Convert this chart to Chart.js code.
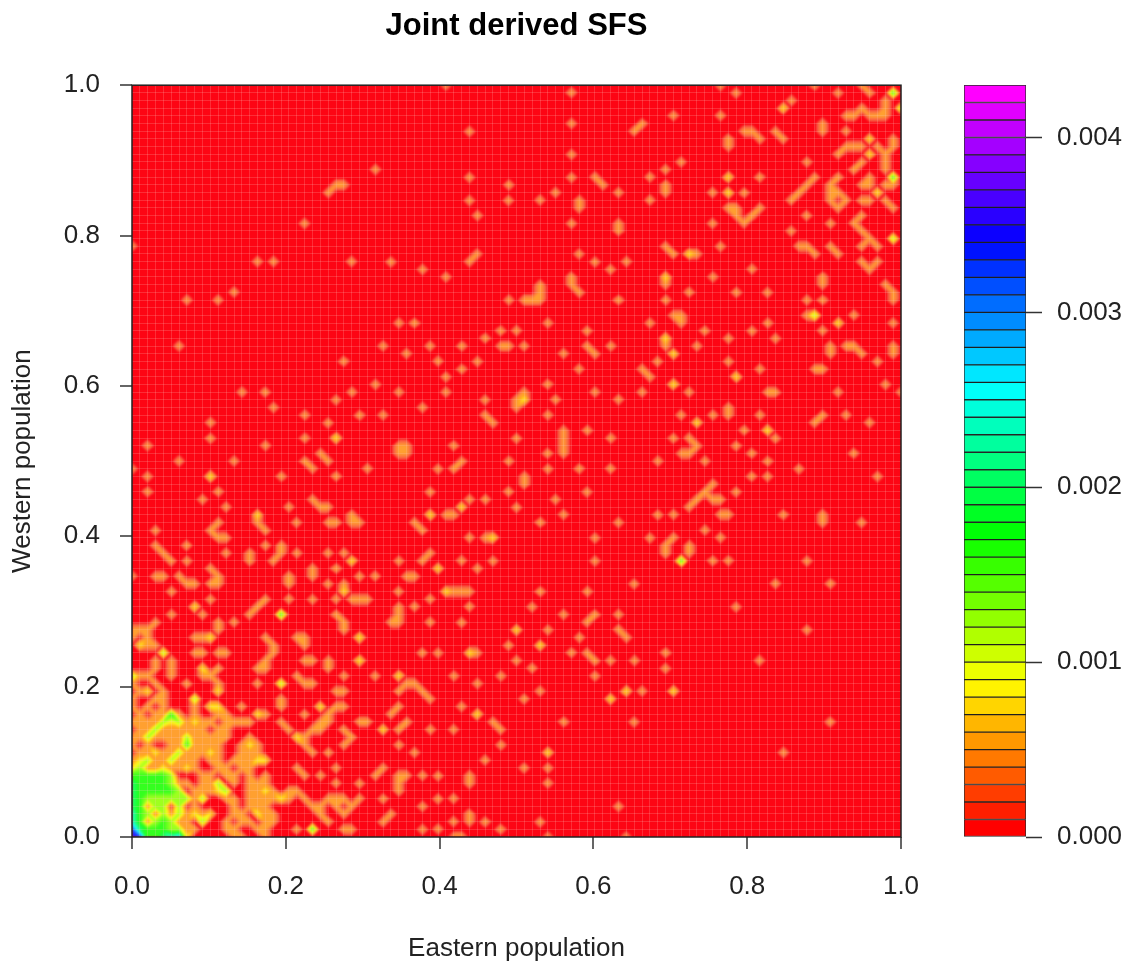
<!DOCTYPE html>
<html>
<head>
<meta charset="utf-8">
<title>Joint derived SFS</title>
<script src="https://cdn.jsdelivr.net/npm/chart.js@4"></script>
<style>
  html, body { margin: 0; padding: 0; background: #fff; }
  canvas { position: absolute; top: 0; }
  #sfsChart { left: 0; }
  #keyChart { left: 930px; }
</style>
</head>
<body>
<canvas id="sfsChart" width="1033" height="967"></canvas>
<canvas id="keyChart" width="200" height="967"></canvas>
<script>
// Frequency bins per axis, each bin is 1/98 of the axis
const binCount = 98;
const valuePerSite = 0.0004;
const tickLabels = [0, 0.2, 0.4, 0.6, 0.8, 1];
const keyTicks = [0, 0.001, 0.002, 0.003, 0.004];
const levelStep = 0.0001;
const levelCount = 43;

// Dense corner near the origin, sites per bin. Row 0 is the bottom row, columns from bin 0
const cornerRows = [
  [9,8,4,4,5,6,7,2,0,0,0,0,0,1,1,0,0,1,0],
  [8,5,4,4,4,3,3,1,1,0,0,0,1,1,0,0,1,1,0],
  [6,4,1,3,4,3,1,1,0,3,0,0,1,0,1,1,0,1,1],
  [6,4,3,1,3,1,3,1,2,1,2,0,0,1,1,0,2,1,1],
  [5,4,1,3,3,0,3,0,1,0,0,0,0,1,0,1,1,1,0],
  [5,4,3,3,3,3,3,3,1,3,0,0,1,1,0,1,1,1,1],
  [5,4,4,4,4,4,3,0,1,1,1,2,3,0,0,1,1,2,1],
  [5,4,4,4,4,3,1,1,0,1,1,3,0,1,0,1,1,1,0],
  [4,4,4,4,4,3,0,0,0,1,1,0,1,1,0,1,0,1,0],
  [2,3,1,1,2,1,1,2,1,0,0,1,1,0,1,1,0,0,0],
  [1,2,3,1,1,3,1,1,1,0,1,1,0,1,1,1,2,2,0],
  [0,1,1,2,1,1,3,1,1,1,2,1,0,0,1,1,1,0,0],
  [1,0,1,0,0,1,1,4,1,1,1,1,0,0,1,2,1,0,0],
  [1,1,3,1,1,1,1,3,1,1,1,1,1,0,0,1,0,0,0],
  [0,1,1,3,1,1,1,1,1,1,0,1,1,0,0,0,0,0,0],
  [1,1,1,1,3,2,3,1,2,1,1,0,1,1,1,1,0,0,0],
  [0,1,0,1,1,4,1,0,1,0,0,1,1,0,0,0,2,1,0],
  [1,0,1,0,1,0,0,0,1,0,2,2,0,0,1,0,0,0,0],
  [1,0,0,1,1,0,0,0,3,0,0,0,0,0,0,0,0,0,0],
  [0,1,2,0,1,0,0,0,0,0,0,2,0,0,0,0,0,0,0],
  [1,0,0,1,0,0,0,1,0,0,0,1,0,0,0,0,1,0,0]
];

// Everything else, [east bin, west bin]
const oneSite = [
  [40,98],[43,92],[31,87],[43,86],[48,85],[25,84],[26,85],[27,85],[48,83],[43,83],[44,81],[22,80],[44,76],[43,75],[0,77],[16,75],[18,75],[28,75],[33,75],[37,74],[40,73],[13,71],
  [56,97],[56,93],[69,94],[75,94],[75,98],[77,97],[65,93],[64,92],[76,90],[76,91],[56,89],[70,88],[68,87],[56,86],[66,86],[59,86],[60,85],[68,84],[68,85],[62,84],[54,84],[74,84],[78,84],[52,83],[66,83],[57,82],[57,83],[56,80],[62,79],[62,80],[74,80],[76,82],[77,82],[77,81],[78,80],[79,81],[80,82],[75,77],[68,77],[69,76],[72,76],[57,76],[59,75],[63,75],[61,74],[56,73],[74,73],[52,72],[79,74],
  [84,96],[87,98],[90,97],[93,98],[94,97],[96,96],[96,95],[96,94],[95,94],[94,94],[93,95],[92,94],[91,94],[78,92],[79,92],[80,91],[82,92],[83,91],[88,92],[88,93],[91,92],[97,90],[97,91],[90,89],[91,90],[92,90],[93,90],[92,87],[93,88],[95,90],[96,89],[96,88],[96,87],[86,88],[80,86],[87,86],[86,85],[85,84],[84,83],[90,86],[89,85],[89,84],[90,84],[89,83],[91,83],[90,82],[94,86],[93,85],[93,83],[94,83],[94,85],[96,85],[96,83],[97,82],[97,85],[86,81],[89,80],[93,81],[92,80],[93,79],[84,79],[85,77],[86,77],[87,76],[89,77],[90,76],[94,78],[93,77],[95,77],[88,73],[93,75],[94,74],[95,75],[96,72],[77,71],[81,71],
  [7,70],[11,70],[6,64],[48,70],[34,67],[36,67],[47,66],[49,66],[45,65],[32,64],[38,64],[42,64],[47,64],[48,64],[27,62],[35,63],[39,62],[44,62],[42,61],[40,60],[31,59],[14,58],[17,58],[28,58],[34,58],[40,58],[26,57],[18,56],[37,56],[45,57],[22,55],[29,55],[32,55],[49,56],[49,57],[45,55],[46,54],[10,54],[25,54],[10,52],[22,52],[2,51],[17,51],[34,50],[35,50],[34,51],[35,51],[41,51],[49,52],[24,50],[25,49],[22,49],[23,48],[6,49],[13,49],[39,48],[42,49],[41,48],[48,49],[30,48],[0,48],[2,47],[19,47],[26,47],[2,45],[11,45],[38,45],[48,45],[9,44],[23,44],[24,43],[25,43],[43,44],[45,44],[49,43],[12,43],[20,43],[16,41],[17,40],[40,42],[41,42],[21,41],[25,41],[26,41],[28,41],[29,41],[28,42],[11,41],[10,40],[11,39],[12,39],[3,40],[36,41],[37,40],[43,39],[45,39],[3,38],[4,37],[5,36],[7,38],[17,38],[19,38],[19,37],[18,36],
  [50,70],[51,70],[52,70],[52,71],[57,71],[62,70],[68,70],[71,71],[86,70],[88,70],[88,72],[96,72],[97,70],[97,71],[68,72],[56,72],[69,68],[70,68],[70,67],[53,67],[66,67],[81,67],[92,68],[86,68],[97,67],[58,66],[73,66],[79,66],[88,66],[50,64],[55,63],[58,64],[59,63],[61,64],[68,64],[72,64],[76,65],[82,65],[91,64],[92,64],[93,63],[89,63],[89,64],[97,63],[97,64],[67,62],[76,62],[95,62],[57,61],[65,61],[66,60],[80,61],[87,61],[88,61],[53,59],[96,59],[50,58],[49,57],[59,58],[65,58],[71,58],[81,58],[82,58],[90,58],[98,58],[54,57],[62,57],[53,55],[70,55],[74,55],[80,55],[76,55],[76,56],[91,55],[94,54],[88,55],[87,54],[58,53],[78,53],[82,52],[61,52],[69,52],[71,52],[72,51],[71,50],[70,50],[55,50],[55,51],[55,52],[55,53],[77,51],[53,50],[79,50],[92,50],[67,49],[73,49],[81,49],[53,48],[57,48],[61,48],[85,48],[79,47],[81,47],[95,47],[50,46],[50,47],[58,45],[74,46],[73,45],[72,44],[71,43],[75,44],[74,44],[77,45],[54,44],[55,42],[67,42],[69,42],[75,42],[76,42],[83,42],[88,41],[88,42],[52,41],[62,41],[93,41],[59,39],[66,39],[69,39],[73,40],[75,39],[71,38],[68,38],
  [38,37],[42,36],[46,36],[59,36],[68,37],[71,37],[74,36],[76,36],[86,36],[44,35],[64,33],[82,33],[89,33],[41,32],[42,32],[43,32],[52,32],[58,32],[38,31],[43,30],[51,30],[77,30],[55,29],[59,29],[58,28],[62,29],[38,28],[42,28],[53,27],[62,27],[63,26],[86,27],[57,26],[48,25],[39,24],[44,24],[56,24],[58,24],[59,23],[68,24],[49,23],[61,23],[64,23],[80,23],[51,22],[68,22],[41,21],[47,21],[59,21],[44,20],[50,18],[52,19],[65,19],[42,17],[46,15],[47,14],[55,15],[64,15],[89,15],[38,14],[41,14],[47,12],[45,10],[50,9],[53,9],[83,11],[39,8],[43,7],[43,8],[53,7],[39,5],[41,5],[62,4],[41,2],[43,2],[43,3],[45,2],[52,2],[39,1],[47,1],[41,0],[42,0],[53,0],[63,0],
  [12,37],[15,36],[15,37],[21,37],[25,37],[27,37],[37,36],[38,37],[34,36],[7,36],[20,34],[20,33],[23,34],[23,35],[26,35],[29,34],[31,34],[35,34],[36,34],[3,34],[4,34],[0,34],[5,32],[6,34],[7,33],[8,33],[10,35],[11,34],[11,33],[10,33],[25,33],[26,31],[28,31],[29,31],[30,31],[27,33],[23,31],[34,32],[36,30],[38,31],[10,31],[9,29],[5,29],[13,28],[16,30],[15,29],[17,31],[20,31],[34,29],[34,28],[34,30],[33,28],[26,29],[27,28],[27,27],[3,28],[0,27],[1,27],[2,27],[11,28],[11,27],[8,26],[9,26],[0,26],[2,26],[17,26],[18,25],[18,24],[17,23],[16,22],[17,22],[21,26],[22,26],[22,25],[8,24],[9,24],[11,24],[12,24],[37,24],[3,25],[2,25],[5,23],[3,23],[3,22],[2,21],[1,21],[5,22],[5,21],[9,21],[10,21],[11,22],[25,22],[25,23],[27,21],[31,21],[35,20],[36,20],[37,19],[21,21],[22,20],[23,20],[26,19],[27,19],[25,16],[26,17],[27,17],[24,15],[23,14],[22,13],[34,19],[34,17],[33,16],[38,18],[22,16],[30,15],[29,15],[35,15],[34,14],[38,14],[20,14],[19,15],[22,12],[23,11],[24,14],[25,15],[27,14],[28,13],[27,12],[34,12],[36,11],[25,11],[21,9],[22,8],[26,9],[32,9],[31,8],[24,8],[26,7],[29,7],[37,8],[39,8],[34,7],[34,8],[35,8],[34,6],[21,6],[22,5],[23,4],[24,3],[25,2],[24,4],[26,5],[27,5],[26,4],[28,4],[29,5],[27,3],[25,5],[32,5],[33,3],[32,2],[37,4],[21,1],[27,1],[28,1],[37,1],[20,6],[20,5],[19,18],[19,17],[22,23],[23,23]
];
const twoSites = [
  [76,86],[76,84],[71,76],[68,73],[83,95],[94,91],[94,89],[95,84],
  [26,52],[10,47],[16,42],[38,42],[42,43],[46,39],[68,65],[69,63],[77,60],[69,59],[72,54],[81,53],[90,67],[50,57],
  [39,35],[40,32],[49,27],[52,25],[43,24],[63,19],[69,19],[61,18],[44,16],[53,11],
  [28,36],[27,32],[8,30],[29,26],[29,23],[10,26],[1,25],[9,22],[34,21],[24,17],[32,14],[21,13],[19,5]
];
const threeSites = [[98,95],[97,78],[87,68],[0,21],[4,24],[19,20]];
const fourSites = [[97,97],[97,86],[70,36],[19,29],[23,1]];

// Bin grid filled from the lists above
const binGrid = [];
for (let i = 0; i <= binCount + 1; i++) binGrid.push(new Array(binCount + 2).fill(0));
function addCells(list, sites) {
  list.forEach(function (cell) {
    binGrid[cell[0]][cell[1]] = Math.max(binGrid[cell[0]][cell[1]], sites);
  });
}
addCells(oneSite, 1);
addCells(twoSites, 2);
addCells(threeSites, 3);
addCells(fourSites, 4);
cornerRows.forEach(function (row, j) {
  row.forEach(function (sites, i) {
    binGrid[i][j] = sites;
  });
});

const cellPoints = [];
for (let i = 0; i <= binCount; i++) {
  for (let j = 0; j <= binCount; j++) {
    if (binGrid[i][j] > 0) {
      cellPoints.push({ x: i / binCount, y: j / binCount, v: binGrid[i][j] * valuePerSite });
    }
  }
}

// R rainbow(): red to magenta
function levelColor(index, lightness) {
  return 'hsl(' + (index * 300 / (levelCount - 1)) + ',100%,' + lightness + '%)';
}
const levelColors = [];
const plotColors = [];
const lowTints = ['#fd0514', '#f8503f', '#fb7040', '#fe8c38', '#ffa030'];
for (let k = 0; k < levelCount; k++) {
  levelColors.push(levelColor(k, 50));
  plotColors.push(k < lowTints.length ? lowTints[k] : levelColor(k, 56));
}

// Linear value inside one bin, split in two triangles along the better diagonal
function binValue(a, b, c, d, u, w) {
  const diffAC = Math.abs(a - c);
  const diffBD = Math.abs(b - d);
  if (diffAC < diffBD || (diffAC === diffBD && a + c >= b + d)) {
    if (u >= w) return a + (b - a) * u + (c - b) * w;
    return a + (d - a) * w + (c - d) * u;
  }
  if (u + w <= 1) return a + (b - a) * u + (d - a) * w;
  return c + (d - c) * (1 - u) + (b - c) * (1 - w);
}

// Filled contours, painted under the grid through the chart's own scales
const contourPlugin = {
  id: 'contourFill',
  beforeDatasetsDraw(chart) {
    const xScale = chart.scales.x;
    const yScale = chart.scales.y;
    const area = chart.chartArea;
    const layer = document.createElement('canvas');
    layer.width = chart.width;
    layer.height = chart.height;
    const g = layer.getContext('2d');
    g.fillStyle = plotColors[0];
    g.fillRect(area.left, area.top, area.right - area.left, area.bottom - area.top);

    for (let i = 0; i < binCount; i++) {
      for (let j = 0; j < binCount; j++) {
        const a = binGrid[i][j], b = binGrid[i + 1][j], c = binGrid[i + 1][j + 1], d = binGrid[i][j + 1];
        if (a + b + c + d === 0) continue;
        const x0 = xScale.getPixelForValue(i / binCount);
        const x1 = xScale.getPixelForValue((i + 1) / binCount);
        const y0 = yScale.getPixelForValue(j / binCount);
        const y1 = yScale.getPixelForValue((j + 1) / binCount);
        for (let px = Math.floor(x0); px <= Math.ceil(x1); px++) {
          const u = (px + 0.5 - x0) / (x1 - x0);
          if (u < 0 || u > 1) continue;
          for (let py = Math.floor(y1); py <= Math.ceil(y0); py++) {
            const w = (y0 - py - 0.5) / (y0 - y1);
            if (w < 0 || w > 1) continue;
            const v = binValue(a, b, c, d, u, w) * valuePerSite;
            // first contour pulled towards zero, the rim in the picture is a bit wider than the levels say
            const level = Math.min(levelCount - 1, Math.floor(v / levelStep + 0.35));
            if (level > 0) {
              g.fillStyle = plotColors[level];
              g.fillRect(px, py, 1, 1);
            }
          }
        }
      }
    }

    const ctx = chart.ctx;
    ctx.save();
    ctx.beginPath();
    ctx.rect(area.left, area.top, area.right - area.left, area.bottom - area.top);
    ctx.clip();
    ctx.fillStyle = plotColors[0];
    ctx.fillRect(area.left, area.top, area.right - area.left, area.bottom - area.top);
    ctx.filter = 'blur(1px)';
    ctx.drawImage(layer, 0, 0);
    ctx.restore();
  },
  afterDraw(chart) {
    const area = chart.chartArea;
    const ctx = chart.ctx;
    ctx.save();
    ctx.strokeStyle = '#222';
    ctx.lineWidth = 1.5;
    ctx.strokeRect(area.left, area.top, area.right - area.left, area.bottom - area.top);
    ctx.restore();
  }
};

// Ticks: labelled ones outside, one faint line per bin inside
function buildPlotTicks(scale) {
  const ticks = tickLabels.map(function (value) {
    return { value: value, labelled: true };
  });
  for (let i = 1; i < binCount; i++) {
    ticks.push({ value: i / binCount, labelled: false });
  }
  ticks.sort(function (p, q) { return p.value - q.value; });
  scale.ticks = ticks;
}

function plotAxis(titleText, titlePadding, tickPadding) {
  return {
    type: 'linear',
    min: 0,
    max: 1,
    afterBuildTicks: buildPlotTicks,
    title: { display: true, text: titleText, color: '#222', font: { size: 26 }, padding: titlePadding },
    grid: {
      z: 1,
      tickLength: 12,
      color: 'rgba(255,205,195,0.2)',
      lineWidth: function (ctx) { return ctx.tick && ctx.tick.labelled ? 0 : 1; },
      tickWidth: function (ctx) { return ctx.tick && ctx.tick.labelled ? 1.5 : 0; },
      tickColor: '#333'
    },
    border: { display: false },
    ticks: {
      autoSkip: false,
      maxRotation: 0,
      minRotation: 0,
      padding: tickPadding,
      color: '#222',
      font: { size: 26 },
      callback: function (value, index, ticks) {
        return ticks[index].labelled ? value.toFixed(1) : '';
      }
    }
  };
}

Chart.defaults.font.family = '"Liberation Sans", Arial, sans-serif';
Chart.defaults.animation = false;

const xAxis = plotAxis('Eastern population', { top: 30, bottom: 3 }, 22);
xAxis.afterFit = function (scale) { scale.height = 130; };
const yAxis = plotAxis('Western population', { top: 7, bottom: 0 }, 20);
yAxis.afterFit = function (scale) { scale.width = 132; };

new Chart(document.getElementById('sfsChart'), {
  type: 'scatter',
  data: {
    datasets: [{ label: 'Joint derived SFS', data: cellPoints, pointRadius: 0, pointHoverRadius: 0 }]
  },
  options: {
    responsive: false,
    layout: { padding: { left: 0, right: 132, top: 0, bottom: 0 } },
    plugins: {
      legend: { display: false },
      tooltip: { enabled: false },
      title: {
        display: true,
        fullSize: false,
        text: 'Joint derived SFS',
        color: '#000',
        font: { size: 31, weight: 'bold' },
        padding: { top: 8, bottom: 40 }
      }
    },
    scales: { x: xAxis, y: yAxis }
  },
  plugins: [contourPlugin]
});

// Colour key
const keyDatasets = levelColors.map(function (color) {
  return {
    data: [levelStep],
    backgroundColor: color,
    borderColor: 'rgba(20,20,20,0.9)',
    borderWidth: 1,
    borderSkipped: false,
    barPercentage: 1,
    categoryPercentage: 1
  };
});

new Chart(document.getElementById('keyChart'), {
  type: 'bar',
  data: { labels: ['level'], datasets: keyDatasets },
  options: {
    responsive: false,
    layout: { padding: { left: 34, right: 0, top: 85, bottom: 130 } },
    plugins: { legend: { display: false }, tooltip: { enabled: false } },
    scales: {
      x: { stacked: true, display: false },
      y: {
        stacked: true,
        position: 'right',
        min: 0,
        max: levelCount * levelStep,
        afterBuildTicks: function (scale) {
          scale.ticks = keyTicks.map(function (value) { return { value: value }; });
        },
        afterFit: function (scale) { scale.width = 104; },
        grid: { drawOnChartArea: false, tickLength: 16, tickWidth: 1.5, tickColor: '#333' },
        border: { display: false },
        ticks: {
          padding: 15,
          color: '#222',
          font: { size: 26 },
          callback: function (value) { return value.toFixed(3); }
        }
      }
    }
  }
});
</script>
</body>
</html>
